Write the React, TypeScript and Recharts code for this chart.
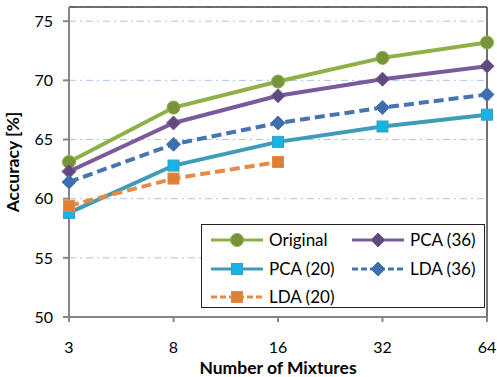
import { CartesianGrid, Legend, Line, LineChart, ReferenceLine, XAxis, YAxis } from "recharts"

const mixtures = ["3", "8", "16", "32", "64"]
const original = [63.1, 67.7, 69.9, 71.9, 73.2]
const pca36 = [62.3, 66.4, 68.7, 70.1, 71.2]
const pca20 = [58.8, 62.8, 64.8, 66.1, 67.1]
const lda36 = [61.4, 64.6, 66.4, 67.7, 68.8]
const lda20 = [59.4, 61.7, 63.1]
const yTicks = [50, 55, 60, 65, 70, 75]

const data = mixtures.map((m, i) => ({
  m,
  original: original[i],
  pca36: pca36[i],
  pca20: pca20[i],
  lda36: lda36[i],
  lda20: lda20[i],
}))

const font = "Lato, 'Open Sans', sans-serif"

type Shape = "circle" | "diamond" | "square"

function Marker({ cx, cy, shape, fill, stroke }: { cx: number; cy: number; shape: Shape; fill: string; stroke: string }) {
  if (cx == null || cy == null) return null
  if (shape === "circle") return <circle cx={cx} cy={cy} r={6.5} fill={fill} stroke={stroke} strokeWidth={1} />
  if (shape === "diamond")
    return <polygon points={`${cx},${cy - 7} ${cx + 7},${cy} ${cx},${cy + 7} ${cx - 7},${cy}`} fill={fill} stroke={stroke} strokeWidth={1} />
  return <rect x={cx - 5.5} y={cy - 5.5} width={11} height={11} fill={fill} stroke={stroke} strokeWidth={1} />
}

const series = [
  { key: "original", name: "Original", line: "#8EB046", fill: "#77933C", shape: "circle" as Shape, dash: undefined },
  { key: "pca36", name: "PCA (36)", line: "#7A5A9C", fill: "#604A7B", shape: "diamond" as Shape, dash: undefined },
  { key: "pca20", name: "PCA (20)", line: "#3F9CB8", fill: "#14B4E8", shape: "square" as Shape, dash: undefined },
  { key: "lda36", name: "LDA (36)", line: "#4675B0", fill: "#3E6FAC", shape: "diamond" as Shape, dash: "10 5" },
  { key: "lda20", name: "LDA (20)", line: "#E58B45", fill: "#DD7F38", shape: "square" as Shape, dash: "10 5" },
]

function LegendBox() {
  const item = (s: (typeof series)[number]) => (
    <div key={s.key} style={{ display: "flex", alignItems: "center", height: 28.5 }}>
      <svg width={56} height={20}>
        <line x1={2} y1={10} x2={54} y2={10} stroke={s.line} strokeWidth={3} strokeDasharray={s.dash ? "6 3" : undefined} />
        <Marker cx={28} cy={10} shape={s.shape} fill={s.fill} stroke={s.line} />
      </svg>
      <span style={{ marginLeft: 4, fontSize: 17, color: "#000", lineHeight: "20px" }}>{s.name}</span>
    </div>
  )
  return (
    <div
      style={{
        width: 284,
        height: 84,
        border: "1px solid #222",
        background: "#fff",
        fontFamily: font,
        boxSizing: "border-box",
        display: "grid",
        gridTemplateColumns: "141px 141px",
        alignContent: "start",
        paddingTop: 1,
        paddingLeft: 7,
      }}
    >
      {series.map(item)}
    </div>
  )
}

export default function App() {
  return (
    <div style={{ position: "absolute", left: 0, top: 0, background: "#fff" }}>
      <LineChart width={497} height={377} data={data} margin={{ top: 7, right: 10, left: 9, bottom: 0 }}>
        <CartesianGrid vertical={false} stroke="#A9C3EF" strokeDasharray="7 4 2 4" />
        <XAxis
          dataKey="m"
          stroke="#868686"
          strokeWidth={2}
          tickSize={5}
          tickMargin={20}
          height={60}
          tick={{ fill: "#000", fontSize: 16, fontFamily: font }}
          label={{ value: "Number of Mixtures", position: "insideBottom", offset: 3, fill: "#000", fontSize: 17.5, fontWeight: 700, fontFamily: font }}
        />
        <YAxis
          domain={[50, 76.2]}
          ticks={yTicks}
          stroke="#868686"
          strokeWidth={2}
          tickSize={6}
          tickMargin={10}
          width={60}
          tick={{ fill: "#000", fontSize: 16, fontFamily: font }}
          label={{ value: "Accuracy [%]", angle: -90, position: "insideLeft", offset: 4, style: { textAnchor: "middle" }, fill: "#000", fontSize: 17.5, fontWeight: 700, fontFamily: font }}
        />
        <ReferenceLine y={76.2} stroke="#404040" strokeWidth={1.5} ifOverflow="visible" />
        <ReferenceLine x="64" stroke="#404040" strokeWidth={1.5} ifOverflow="visible" />
        {series.map((s) => (
          <Line
            key={s.key}
            dataKey={s.key}
            name={s.name}
            stroke={s.line}
            strokeWidth={4}
            strokeDasharray={s.dash}
            isAnimationActive={false}
            dot={(p: any) => <Marker key={`${s.key}-${p.index}`} cx={p.cx} cy={p.cy} shape={s.shape} fill={s.fill} stroke={s.line} />}
            activeDot={false}
          />
        ))}
        <Legend
          verticalAlign="top"
          content={() => <LegendBox />}
          wrapperStyle={{ left: 201, top: 224, width: 284, height: 0, overflow: "visible" }}
        />
      </LineChart>
    </div>
  )
}
